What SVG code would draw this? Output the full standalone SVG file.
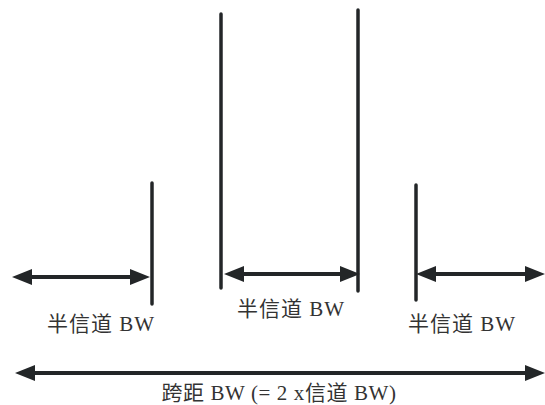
<svg xmlns="http://www.w3.org/2000/svg" width="545" height="405" viewBox="0 0 545 405">
<style>
.bar{stroke:#232628;stroke-width:3.5;stroke-linecap:round;fill:none}
.arr{stroke:#232628;stroke-width:4;fill:none}
.lbl{font-family:"Liberation Serif","Noto Sans CJK SC",serif;font-size:21px;fill:#333;text-anchor:middle;letter-spacing:1px}
</style>
<defs>
<marker id="ah" markerUnits="userSpaceOnUse" markerWidth="22" markerHeight="18" viewBox="0 0 22 18" refX="10" refY="9" orient="auto-start-reverse">
<path d="M0,1 L20,9 L0,17 z" fill="#232628"/>
</marker>
</defs>
<rect width="545" height="405" fill="#fff"/>
<g id="connectors">
<line class="arr" x1="22" y1="277" x2="140" y2="277" marker-start="url(#ah)" marker-end="url(#ah)"/>
<line class="arr" x1="234" y1="274" x2="350" y2="274" marker-start="url(#ah)" marker-end="url(#ah)"/>
<line class="arr" x1="426" y1="274" x2="535" y2="274" marker-start="url(#ah)" marker-end="url(#ah)"/>
<line class="arr" x1="25" y1="373" x2="535" y2="373" marker-start="url(#ah)" marker-end="url(#ah)"/>
</g>
<g id="bar1"><line class="bar" x1="152" y1="183" x2="152" y2="304"/></g>
<g id="bar2"><line class="bar" x1="221" y1="14" x2="221" y2="288"/></g>
<g id="bar3"><line class="bar" x1="358" y1="10" x2="358" y2="291"/></g>
<g id="bar4"><line class="bar" x1="416" y1="185" x2="416" y2="300"/></g>
<g id="label1"><text class="lbl" x="101" y="331">半信道 BW</text></g>
<g id="label2"><text class="lbl" x="291" y="316">半信道 BW</text></g>
<g id="label3"><text class="lbl" x="462" y="331">半信道 BW</text></g>
<g id="label4"><text class="lbl" x="279" y="400" style="letter-spacing:0.6px">跨距 BW (= 2 x信道 BW)</text></g>
</svg>
